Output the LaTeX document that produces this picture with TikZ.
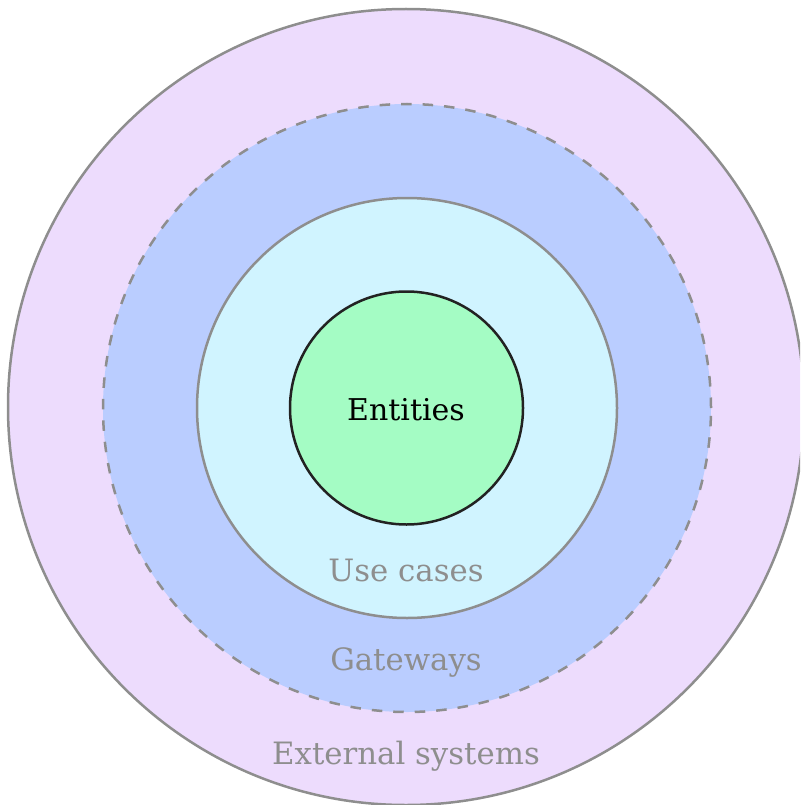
\documentclass[tikz,border=0pt]{standalone}
\usepackage{fontspec}
\setmainfont{DejaVu Serif}
\begin{document}
\begin{tikzpicture}[x=1pt,y=-1pt,
  ring/.style={circle, draw=ringgray, line width=2.5pt, inner sep=0pt},
  lbl/.style={text=ringgray, font=\fontsize{30.8}{36}\selectfont, inner sep=0pt, anchor=center}]
\definecolor{ringgray}{HTML}{8E8E8E}
\definecolor{outerfill}{HTML}{EDDCFD}
\definecolor{gatefill}{HTML}{BACDFF}
\definecolor{usefill}{HTML}{D0F4FF}
\definecolor{entfill}{HTML}{A4FCC4}
\definecolor{entline}{HTML}{222222}
\useasboundingbox (0,0) rectangle (800,805);
\clip (0,0) rectangle (800,805);
\node[ring, fill=outerfill, minimum size=796pt] (ext) at (406,407) {};
\node[ring, fill=gatefill, dash pattern=on 10.5pt off 11pt, minimum size=608pt] (gate) at (407,408) {};
\node[ring, fill=usefill, minimum size=420pt] (uc) at (407,408) {};
\node[circle, draw=entline, line width=2.5pt, inner sep=0pt, fill=entfill, minimum size=233pt] (ent) at (406.5,408) {};
\node[inner sep=0pt, font=\fontsize{30}{36}\selectfont] (entl) at (406,410) {Entities};
\node[lbl] (ucl) at (406,570) {Use cases};
\node[lbl] (gwl) at (406,662) {Gateways};
\node[lbl] (exl) at (406,756) {External systems};
\end{tikzpicture}
\end{document}
